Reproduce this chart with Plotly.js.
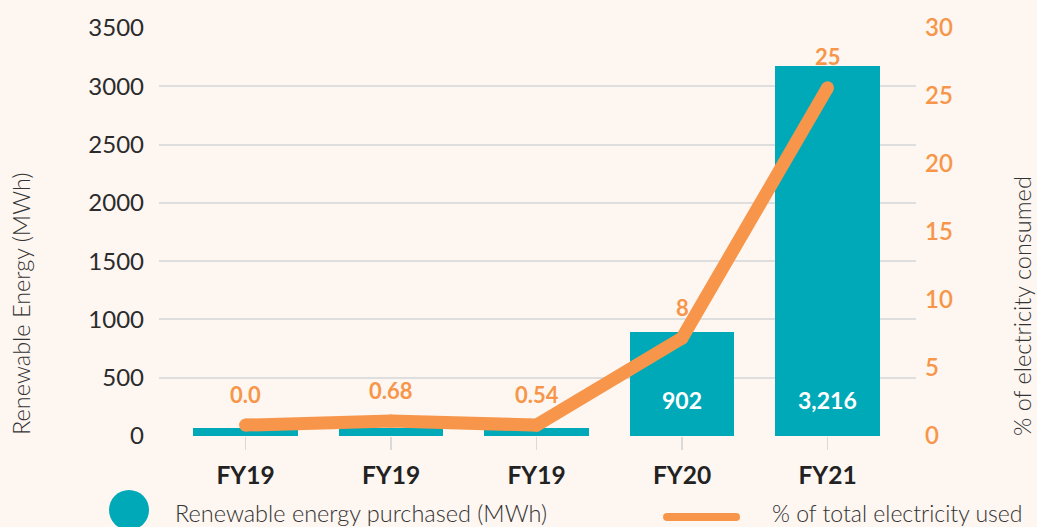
<!DOCTYPE html>
<html>
<head>
<meta charset="utf-8">
<script src="https://cdn.plot.ly/plotly-3.0.1.min.js"></script>
<style>
  html, body { margin: 0; padding: 0; background: #fdf6f1; }
  #chart { width: 1037px; height: 527px; }
</style>
</head>
<body>
<div id="chart"></div>
<script>
// ---- data ----
var categories = ['FY19', 'FY19', 'FY19', 'FY20', 'FY21'];
var renewableMWh = [70, 70, 70, 890, 3170];
var barLabels = ['', '', '', '902', '3,216'];
var pctElectricity = [0.8, 1.1, 0.8, 7.2, 25.6];
var pctLabels = ['0.0', '0.68', '0.54', '8', '25'];
var leftTitle = 'Renewable Energy (MWh)';
var rightTitle = '% of electricity consumed';
var legendBar = 'Renewable energy purchased (MWh)';
var legendLine = '% of total electricity used';

// ---- styling ----
var FONT = 'Lato, "Open Sans", sans-serif';
var TEAL = '#00a9b7';
var ORANGE = '#f7964a';
var DARK = '#2b2b2b';
var BG = '#fdf6f1';

var idx = categories.map(function (_, i) { return i; });

var bars = {
  type: 'bar',
  x: idx,
  y: renewableMWh,
  width: 0.72,
  marker: { color: TEAL },
  hoverinfo: 'skip',
  showlegend: false,
  yaxis: 'y'
};

var line = {
  type: 'scatter',
  mode: 'lines+markers',
  x: idx,
  y: pctElectricity,
  yaxis: 'y2',
  line: { color: ORANGE, width: 13 },
  marker: { color: ORANGE, size: 13 },
  cliponaxis: false,
  hoverinfo: 'skip',
  showlegend: false
};

var annotations = [];
pctLabels.forEach(function (t, i) {
  annotations.push({
    x: i, y: pctElectricity[i], xref: 'x', yref: 'y2', text: t, showarrow: false,
    yanchor: 'middle', yshift: 31,
    font: { family: FONT, size: 22, color: ORANGE, weight: 700 }
  });
});
barLabels.forEach(function (t, i) {
  if (t) {
    annotations.push({
      x: i, y: 0, xref: 'x', yref: 'y', text: t, showarrow: false,
      yanchor: 'middle', yshift: 36,
      font: { family: FONT, size: 23, color: '#ffffff', weight: 700 }
    });
  }
});
annotations.push({
  xref: 'paper', yref: 'paper', x: -0.1823, y: 0.326, text: leftTitle,
  textangle: -90, showarrow: false, xanchor: 'center', yanchor: 'middle',
  font: { family: FONT, size: 23.5, color: '#333333', weight: 300 }
});
annotations.push({
  xref: 'paper', yref: 'paper', x: 1.140, y: 0.3186, text: rightTitle,
  textangle: -90, showarrow: false, xanchor: 'center', yanchor: 'middle',
  font: { family: FONT, size: 23.5, color: '#333333', weight: 300 }
});
annotations.push({
  xref: 'paper', yref: 'paper', x: 0.0185, y: -0.1887, text: legendBar,
  showarrow: false, xanchor: 'left', yanchor: 'middle',
  font: { family: FONT, size: 23.5, color: '#333333', weight: 300 }
});
annotations.push({
  xref: 'paper', yref: 'paper', x: 0.8071, y: -0.1887, text: legendLine,
  showarrow: false, xanchor: 'left', yanchor: 'middle',
  font: { family: FONT, size: 23, color: '#333333', weight: 300 }
});

var shapes = [
  {
    type: 'circle', xref: 'paper', yref: 'paper',
    xsizemode: 'pixel', ysizemode: 'pixel',
    xanchor: -0.0396, yanchor: -0.1814,
    x0: -20, x1: 20, y0: -20, y1: 20,
    fillcolor: TEAL, line: { width: 0 }
  },
  {
    type: 'path', xref: 'paper', yref: 'paper',
    xsizemode: 'pixel', ysizemode: 'pixel',
    xanchor: 0.7167, yanchor: -0.1985,
    path: 'M -34.5,-4 L 34.5,-4 Q 38.5,-4 38.5,0 Q 38.5,4 34.5,4 L -34.5,4 Q -38.5,4 -38.5,0 Q -38.5,-4 -34.5,-4 Z',
    fillcolor: ORANGE, line: { width: 0 }
  }
];

var layout = {
  width: 1037,
  height: 527,
  margin: { l: 159, r: 121, t: 28, b: 91, pad: 0 },
  paper_bgcolor: BG,
  plot_bgcolor: BG,
  font: { family: FONT, color: DARK },
  showlegend: false,
  bargap: 0,
  xaxis: {
    type: 'linear',
    range: [-0.595, 4.608],
    tickvals: idx,
    ticktext: categories,
    ticks: 'outside',
    ticklen: 13,
    tickwidth: 1.5,
    tickcolor: '#d9d9d9',
    showgrid: false,
    zeroline: false,
    showline: false,
    fixedrange: true,
    ticklabelstandoff: 5,
    tickfont: { family: FONT, size: 24.5, color: '#222222', weight: 700 }
  },
  yaxis: {
    range: [0, 3500],
    dtick: 500,
    tick0: 0,
    showgrid: true,
    gridcolor: '#dedede',
    gridwidth: 2,
    zeroline: false,
    showline: false,
    ticks: '',
    ticklabelstandoff: 14,
    tickfont: { family: FONT, size: 24, color: DARK },
    fixedrange: true
  },
  yaxis2: {
    overlaying: 'y',
    side: 'right',
    range: [0, 30],
    dtick: 5,
    tick0: 0,
    showgrid: false,
    zeroline: false,
    showline: false,
    ticks: '',
    ticklabelstandoff: 8,
    tickfont: { family: FONT, size: 24, color: ORANGE, weight: 600 },
    fixedrange: true
  },
  annotations: annotations,
  shapes: shapes
};

Plotly.newPlot('chart', [bars, line], layout, { displayModeBar: false, staticPlot: true });
</script>
</body>
</html>
